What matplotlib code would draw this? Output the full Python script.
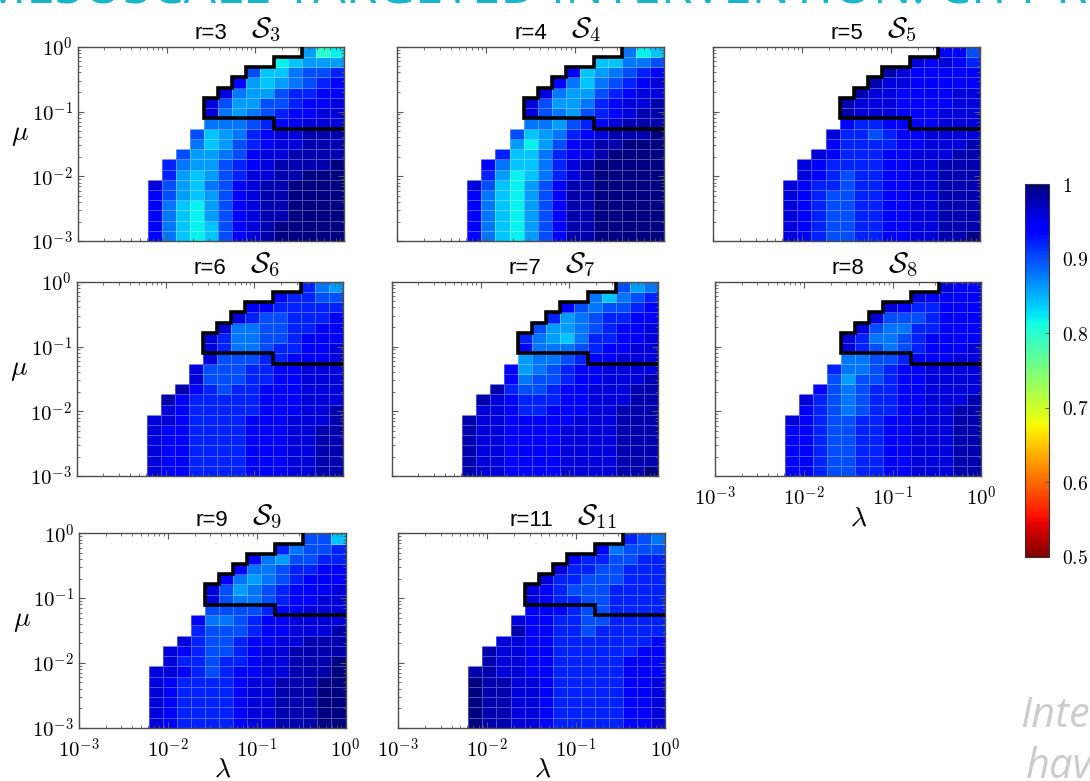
import numpy as np
import matplotlib
matplotlib.use("Agg")
import matplotlib.pyplot as plt
from matplotlib.ticker import NullFormatter

plt.rcParams['mathtext.fontset'] = 'cm'

# 19 x 19 cells, lambda and mu both log-spaced from 1e-3 to 1e0
lam_edges = np.logspace(-3, 0, 20)
mu_edges = np.logspace(-3, 0, 20)

# one character per cell, top row first, '.' = no value
# '0' -> 1.00, '1' -> 0.98, '2' -> 0.96 ... '9' -> 0.82, 'a' -> 0.80
levels = "0123456789a"

r3 = ["................7a9",
      "..............98777",
      "............5886554",
      "...........37876543",
      "..........267754433",
      ".........2577554332",
      ".........2676543322",
      ".........6665433222",
      "........58764322111",
      "........68754322111",
      ".......577653221111",
      "......4677543211110",
      "......4787542211000",
      ".....25786532110000",
      ".....35787532110000",
      ".....36897532110000",
      ".....36897532110000",
      ".....36898532100000",
      ".....36898532100000"]

r4 = ["................698",
      "..............88665",
      "............3876543",
      "...........36865432",
      "..........267754322",
      ".........2577643221",
      ".........2567543211",
      ".........6675432111",
      "........58764321110",
      "........79753211000",
      ".......488643210000",
      "......3688642100000",
      "......4798642100000",
      ".....25897531100000",
      ".....36897531100000",
      ".....36897531100000",
      ".....36897531100000",
      ".....36897531100000",
      ".....36897531100000"]

r5 = ["................335",
      "..............23234",
      "............1233333",
      "...........12233333",
      "..........122333322",
      ".........1222333322",
      ".........1222333222",
      ".........3443333222",
      "........24454332222",
      "........34444332221",
      ".......234443322211",
      "......2344443322111",
      "......2345443322111",
      ".....23445443322111",
      ".....23455443322111",
      ".....23455443322111",
      ".....23455443322111",
      ".....23455443322111",
      ".....23455443322110"]

r6 = ["................467",
      "..............34455",
      "............3344444",
      "...........24554443",
      "..........266554433",
      ".........2466554333",
      ".........2466544332",
      ".........2555443332",
      "........25554433222",
      "........25554433222",
      ".......134544333222",
      "......1344444333222",
      "......2344444333221",
      ".....22344443332221",
      ".....23344443332211",
      ".....23344443332211",
      ".....23344443332211",
      ".....23344443332211",
      ".....23344443332211"]

r7 = ["................576",
      "..............68654",
      "............3565543",
      "...........47654433",
      "..........577654332",
      ".........4678644332",
      ".........3666543322",
      ".........7665433222",
      "........37654332222",
      "........36554332221",
      ".......145543322211",
      "......1234443322211",
      "......2234433322111",
      ".....12233333222111",
      ".....12233332222111",
      ".....12233332222111",
      ".....12233332222111",
      ".....12233332222111",
      ".....12233332222110"]

r8 = ["................233",
      "..............23333",
      "............2344333",
      "...........25554333",
      "..........256644333",
      ".........2466543333",
      ".........2456543332",
      ".........6655433322",
      "........46654332222",
      "........57554332222",
      ".......356544332222",
      "......2456544332221",
      "......3456544332211",
      ".....23455443322211",
      ".....33455443322211",
      ".....33455443322211",
      ".....33455443322211",
      ".....33455443322211",
      ".....33455443322211"]

r9 = ["................558",
      "..............46554",
      "............3675544",
      "...........36654433",
      "..........367654333",
      ".........2576543332",
      ".........2566543322",
      ".........5555433222",
      "........36654332222",
      "........45554332221",
      ".......245543322111",
      "......2345543221111",
      "......2445443221110",
      ".....22345433221110",
      ".....23444432211100",
      ".....23444432211100",
      ".....23444432211100",
      ".....23444432211100",
      ".....23444432211100"]

r11 = ["................456",
       "..............36555",
       "............3445544",
       "...........24455444",
       "..........244555444",
       ".........2345554444",
       ".........2344554444",
       ".........3334554444",
       "........23344554444",
       "........13344544444",
       ".......223344444443",
       "......1223344444433",
       "......1223344444333",
       ".....11223344444333",
       ".....01122344444332",
       ".....01122344444332",
       ".....01122344444332",
       ".....01122344444332",
       ".....01122344444332"]

# black outline around the S region, as cell edge indices
outline_col = [19, 14, 14, 9, 9, 10, 10, 11, 11, 12, 12, 14, 14, 16, 16]
outline_row = [11, 11, 12, 12, 14, 14, 15, 15, 16, 16, 17, 17, 18, 18, 19]

decade_ticks = [1e-3, 1e-2, 1e-1, 1e0]
decade_labels = [r'$10^{-3}$', r'$10^{-2}$', r'$10^{-1}$', r'$10^{0}$']
cbar_ticks = [0.5, 0.6, 0.7, 0.8, 0.9, 1.0]
cbar_labels = [r'$0.5$', r'$0.6$', r'$0.7$', r'$0.8$', r'$0.9$', r'$1$']


def decode(rows):
    grid = np.full((19, 19), np.nan)
    for t, line in enumerate(rows):
        for c, ch in enumerate(line):
            if ch != '.':
                grid[18 - t, c] = 1 - 0.02 * levels.index(ch)
    return np.ma.masked_invalid(grid)


W, H = 1090, 781
fig = plt.figure(figsize=(W / 100, H / 100), dpi=100)

# (r, data, left px, top px, y labels, x labels)
panels = [(3, r3, 77.7, 46.7, True, False),
          (4, r4, 397.3, 46.7, False, False),
          (5, r5, 713.3, 46.7, False, False),
          (6, r6, 76.7, 281.7, True, False),
          (7, r7, 391.7, 281.7, False, False),
          (8, r8, 715.0, 281.7, False, True),
          (9, r9, 79.0, 533.3, True, True),
          (11, r11, 398.3, 533.3, False, True)]
pw, ph = 266.5, 194.5

mesh = None
for r, rows, left, top, ylab, xlab in panels:
    ax = fig.add_axes([left / W, 1 - (top + ph) / H, pw / W, ph / H])
    mesh = ax.pcolormesh(lam_edges, mu_edges, decode(rows), cmap='jet_r',
                         vmin=0.5, vmax=1.0, edgecolors=(1, 1, 1, 0.3),
                         linewidth=0.4)
    ax.set_xscale('log')
    ax.set_yscale('log')
    ax.set_xlim(1e-3, 1)
    ax.set_ylim(1e-3, 1)
    ax.plot(lam_edges[outline_col], mu_edges[outline_row], color='black',
            lw=2.6, solid_joinstyle='miter', solid_capstyle='butt', zorder=3)
    ax.set_xticks(decade_ticks, decade_labels if xlab else [])
    ax.set_yticks(decade_ticks, decade_labels if ylab else [])
    ax.xaxis.set_minor_formatter(NullFormatter())
    ax.yaxis.set_minor_formatter(NullFormatter())
    ax.tick_params(which='both', direction='in', top=True, right=True,
                   color='0.35', labelsize=15)
    ax.tick_params(which='major', length=4, width=0.8)
    ax.tick_params(which='minor', length=2, width=0.6)
    ax.tick_params(axis='x', pad=7)
    for s in ax.spines.values():
        s.set_color('0.3')
        s.set_linewidth(1.0)
    if ylab:
        ax.set_ylabel(r'$\mu$', rotation=0, fontsize=20)
        ax.yaxis.set_label_coords(-0.215, 0.48)
    if xlab:
        ax.set_xlabel(r'$\lambda$', fontsize=20)
        ax.xaxis.set_label_coords(0.54, -0.14)
    rt = ax.annotate(f'r={r}', xy=(0.5, 1), xycoords='axes fraction',
                     xytext=(0, 2), textcoords='offset points', ha='center',
                     va='bottom', fontsize=16, family='Liberation Sans')
    ax.annotate(r'$\mathcal{S}_{%d}$' % r, xy=(1, 0), xycoords=rt,
                xytext=(17, 0), textcoords='offset points', ha='left',
                va='bottom', fontsize=21, zorder=5,
                bbox=dict(facecolor='white', edgecolor='none', pad=0.5))

cax = fig.add_axes([1025 / W, 1 - 557 / H, 24 / W, 373 / H])
cb = fig.colorbar(mesh, cax=cax, ticks=cbar_ticks)
cb.ax.set_yticklabels(cbar_labels)
cb.ax.tick_params(direction='in', length=3, width=0.6, labelsize=14, pad=9,
                  color='0.3')
cb.outline.set_linewidth(0.8)
cb.outline.set_edgecolor('0.2')

# slide text cut off at the edges
fig.text(-20 / W, 1 - 4 / H, "MESOSCALE TARGETED INTERVENTION: CITY R",
         fontsize=37, color='#19b5c9', family='Open Sans', va='baseline')
fig.text(1020 / W, 1 - 727 / H, "Interventions", fontsize=30,
         color='#cccccc', style='italic', family='Open Sans', va='baseline')
fig.text(1026 / W, 1 - 778 / H, "have", fontsize=30,
         color='#cccccc', style='italic', family='Open Sans', va='baseline')

fig.savefig('out.png', dpi=100)
